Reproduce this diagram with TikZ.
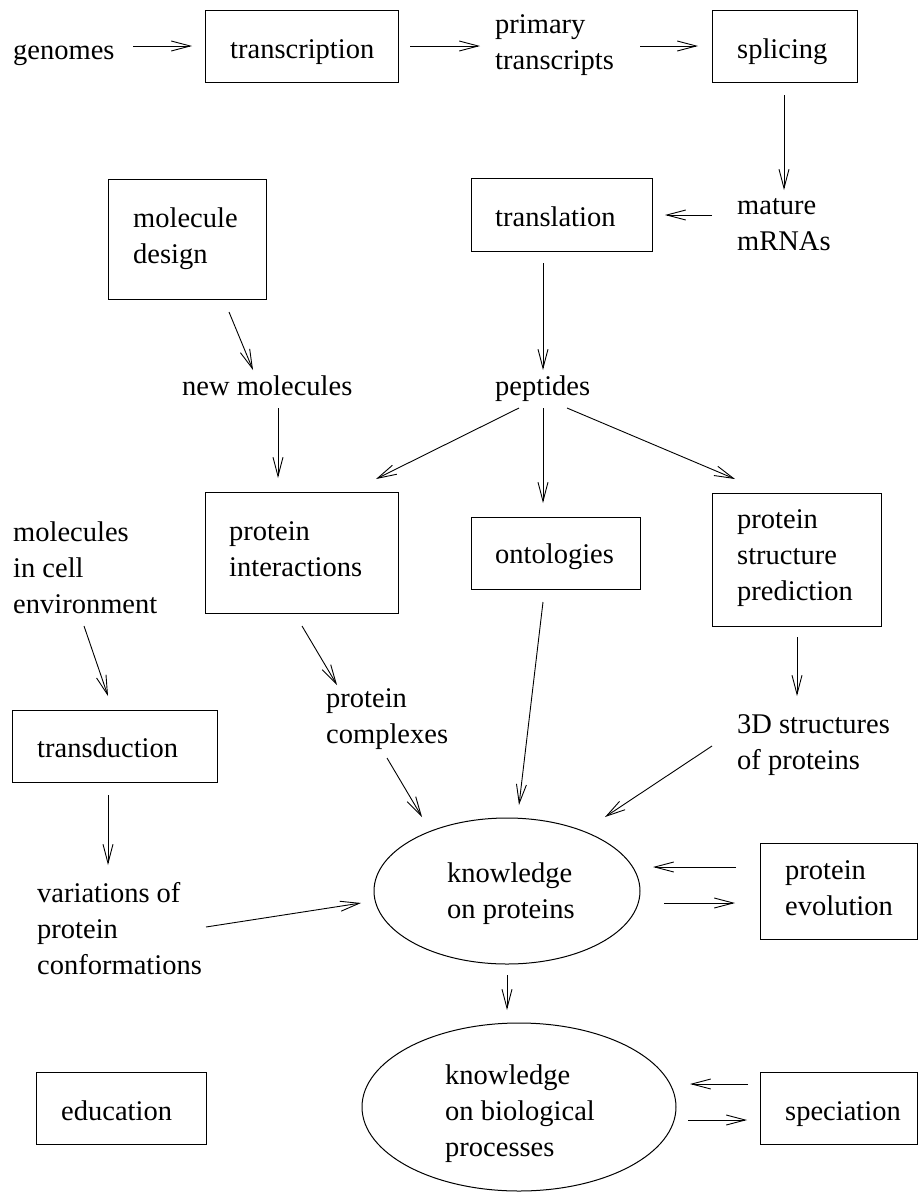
\documentclass[tikz,border=0pt]{standalone}
\usepackage{fontspec}
\setmainfont{Liberation Serif}
\usetikzlibrary{arrows.meta,shapes.geometric}
\tikzset{
  txt/.style={inner sep=0pt, anchor=north west, align=left, font=\fontsize{28.5}{36}\selectfont},
  boxnode/.style={draw, line width=1pt, inner sep=0pt},
  ell/.style={draw, ellipse, line width=1pt, inner sep=0pt},
  arr/.style={line width=0.9pt, -{Straight Barb[length=19pt,width=10pt,line width=0.9pt]}}
}
\begin{document}
\begin{tikzpicture}[x=1pt,y=-1pt]
\fill[white] (0,0) rectangle (920,1192);
\useasboundingbox (0,0) rectangle (920,1192);

% boxes
\node[boxnode, minimum width=193pt, minimum height=72pt] (T) at (301.5,46) {};
\node[boxnode, minimum width=145pt, minimum height=72pt] (S) at (784.5,46) {};
\node[boxnode, minimum width=181pt, minimum height=73pt] (TL) at (561.5,214.5) {};
\node[boxnode, minimum width=158pt, minimum height=120pt] (MD) at (187,239) {};
\node[boxnode, minimum width=193pt, minimum height=121pt] (PI) at (301.5,552.5) {};
\node[boxnode, minimum width=169pt, minimum height=72pt] (O) at (555.5,553) {};
\node[boxnode, minimum width=169pt, minimum height=133pt] (PSP) at (796.5,559.5) {};
\node[boxnode, minimum width=205pt, minimum height=72pt] (TD) at (114.5,746) {};
\node[boxnode, minimum width=170pt, minimum height=72pt] (ED) at (121,1108) {};
\node[boxnode, minimum width=157pt, minimum height=96pt] (PE) at (838.5,891) {};
\node[boxnode, minimum width=157pt, minimum height=72pt] (SP) at (839,1108) {};
% ellipses
\node[ell, minimum width=266pt, minimum height=146pt] (E1) at (507,891) {};
\node[ell, minimum width=314pt, minimum height=168pt] (E2) at (519,1107) {};

% box texts
\node[txt] (Tt) at (230,32.8) {\strut transcription};
\node[txt] (St) at (737,32.8) {\strut splicing};
\node[txt] (TLt) at (495,200.8) {\strut translation};
\node[txt] (MDt) at (133,201.8) {\strut molecule\\\strut design};
\node[txt] (PIt) at (229,514.8) {\strut protein\\\strut interactions};
\node[txt] (Ot) at (495,537.8) {\strut ontologies};
\node[txt] (PSPt) at (737,502.8) {\strut protein\\\strut structure\\\strut prediction};
\node[txt] (TDt) at (37,731.8) {\strut transduction};
\node[txt] (EDt) at (61,1094.8) {\strut education};
\node[txt] (PEt) at (785,853.8) {\strut protein\\\strut evolution};
\node[txt] (SPt) at (785,1094.8) {\strut speciation};
\node[txt] (E1t) at (447,856.8) {\strut knowledge\\\strut on proteins};
\node[txt] (E2t) at (445,1058.8) {\strut knowledge\\\strut on biological\\\strut processes};

% free texts
\node[txt] (g) at (13,33.8) {\strut genomes};
\node[txt] (pt) at (495,7.8) {\strut primary\\\strut transcripts};
\node[txt] (mm) at (737,188.8) {\strut mature\\\strut mRNAs};
\node[txt] (pep) at (495,369.8) {\strut peptides};
\node[txt] (nm) at (182,369.8) {\strut new molecules};
\node[txt] (me) at (13,515.8) {\strut molecules\\\strut in cell\\\strut environment};
\node[txt] (pc) at (326,681.8) {\strut protein\\\strut complexes};
\node[txt] (sd) at (737,707.8) {\strut 3D structures\\\strut of proteins};
\node[txt] (var) at (37,876.8) {\strut variations of\\\strut protein\\\strut conformations};

% connectors
\draw[arr] ([shift={(120,12.2)}]g.north west) -- ([shift={(-109.5,0)}]T.center);
\draw[arr] ([shift={(108.5,0)}]T.center) -- ([shift={(-15,38.2)}]pt.north west);
\draw[arr] ([shift={(145,38.2)}]pt.north west) -- ([shift={(-86.5,0)}]S.center);
\draw[arr] ([shift={(-0.5,49)}]S.center) -- ([shift={(47,1.2)}]mm.north west);
\draw[arr] ([shift={(-25,26.2)}]mm.north west) -- ([shift={(103.5,0.5)}]TL.center);
\draw[arr] ([shift={(-18.5,48.5)}]TL.center) -- ([shift={(48,0.2)}]pep.north west);
\draw[arr] ([shift={(42,73)}]MD.center) -- ([shift={(71,0.2)}]nm.north west);
\draw[arr] ([shift={(96,38.2)}]nm.north west) -- ([shift={(-23.5,-74.5)}]PI.center);
\draw[arr] ([shift={(24,38.2)}]pep.north west) -- ([shift={(74.5,-73.5)}]PI.center);
\draw[arr] ([shift={(48,38.2)}]pep.north west) -- ([shift={(-12.5,-50)}]O.center);
\draw[arr] ([shift={(72,38.2)}]pep.north west) -- ([shift={(-61.5,-80.5)}]PSP.center);
\draw[arr] ([shift={(71,110.2)}]me.north west) -- ([shift={(-6.5,-50)}]TD.center);
\draw[arr] ([shift={(0.5,73.5)}]PI.center) -- ([shift={(11,3.2)}]pc.north west);
\draw[arr] ([shift={(0.5,77.5)}]PSP.center) -- ([shift={(60,-11.8)}]sd.north west);
\draw[arr] ([shift={(-6.5,49)}]TD.center) -- ([shift={(71,-11.8)}]var.north west);
\draw[arr] ([shift={(61,76.2)}]pc.north west) -- ([shift={(-85,-74)}]E1.center);
\draw[arr] ([shift={(-12.5,49)}]O.center) -- ([shift={(12,-86)}]E1.center);
\draw[arr] ([shift={(-25,38.2)}]sd.north west) -- ([shift={(98,-74)}]E1.center);
\draw[arr] ([shift={(169,50.2)}]var.north west) -- ([shift={(-146,12)}]E1.center);
\draw[arr] ([shift={(-102.5,-24)}]PE.center) -- ([shift={(146,-24)}]E1.center);
\draw[arr] ([shift={(157,12)}]E1.center) -- ([shift={(-103.5,12)}]PE.center);
\draw[arr] ([shift={(0,84)}]E1.center) -- ([shift={(-12,-97)}]E2.center);
\draw[arr] ([shift={(-91,-24)}]SP.center) -- ([shift={(171,-23)}]E2.center);
\draw[arr] ([shift={(169,13)}]E2.center) -- ([shift={(-92,12)}]SP.center);
\end{tikzpicture}
\end{document}
